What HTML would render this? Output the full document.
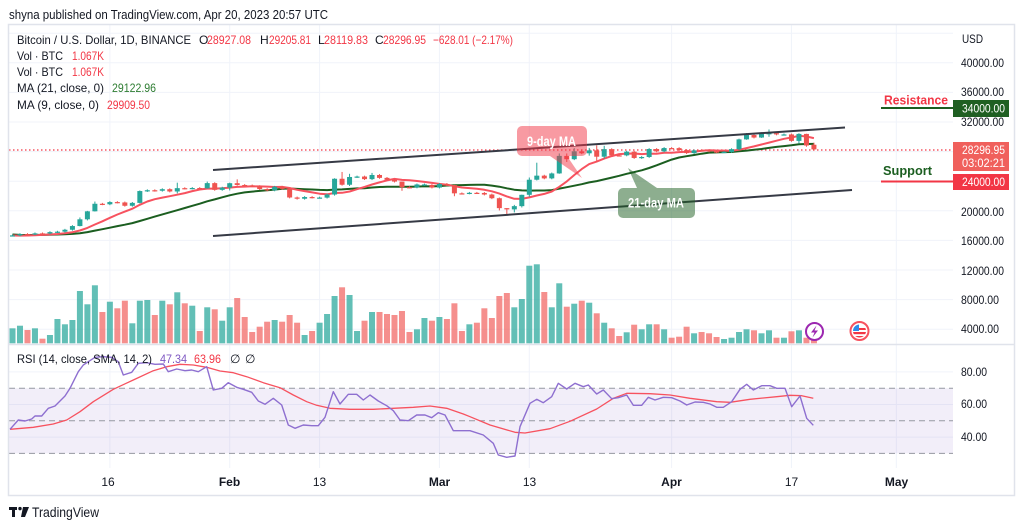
<!DOCTYPE html>
<html><head><meta charset="utf-8"><style>
html,body{margin:0;padding:0;background:#fff;}
svg{display:block;font-family:"Liberation Sans",sans-serif;}
</style></head><body>
<svg id="c" width="1024" height="529" viewBox="0 0 1024 529" xmlns="http://www.w3.org/2000/svg">
<rect x="0" y="0" width="1024" height="529" fill="#fff"/>
<g id="grid"></g>
<!-- RSI band -->
<rect x="9" y="388.2" width="944" height="65.2" fill="#7e57c2" fill-opacity="0.1"/>
<g stroke="#9598a1" stroke-width="1" stroke-dasharray="6,4">
<line x1="9" y1="388.2" x2="953" y2="388.2"/>
<line x1="9" y1="420.8" x2="953" y2="420.8"/>
<line x1="9" y1="453.4" x2="953" y2="453.4"/>
</g>
<g id="vol"></g>
<!-- current price dotted line -->
<line x1="9" y1="150" x2="953" y2="150" stroke="#f23645" stroke-width="1.2" stroke-dasharray="1.5,2.5"/>
<g id="ma"></g>
<g id="candles"></g>
<!-- channel lines -->
<line x1="213" y1="170" x2="845" y2="127.5" stroke="#363a45" stroke-width="2"/>
<line x1="213" y1="236" x2="852" y2="190" stroke="#363a45" stroke-width="2"/>
<!-- callouts -->
<g fill="#f23645" fill-opacity="0.5">
<rect x="517" y="126" width="70" height="30" rx="5"/>
<polygon points="550,156 567,156 582,178"/>
</g>
<text x="551.5" y="146" font-size="13.5" font-weight="bold" fill="#fff" text-anchor="middle" textLength="49" lengthAdjust="spacingAndGlyphs">9-day MA</text>
<g fill="#1b5e20" fill-opacity="0.5">
<rect x="618" y="188" width="77" height="30" rx="5"/>
<polygon points="637,188 657,188 628,168"/>
</g>
<text x="656" y="207.5" font-size="13.5" font-weight="bold" fill="#fff" text-anchor="middle" textLength="56" lengthAdjust="spacingAndGlyphs">21-day MA</text>
<!-- RSI lines -->
<g id="rsi"></g>
<!-- icons -->
<circle cx="814.5" cy="331.5" r="8.5" fill="#fff" stroke="#9c27b0" stroke-width="2"/>
<polygon points="816.5,325.5 811,332.5 814.5,332.5 812.5,337.5 818,330.5 814.5,330.5" fill="#9c27b0"/>
<circle cx="859.5" cy="331" r="9" fill="#fff" stroke="#f7525f" stroke-width="2"/>
<clipPath id="fc"><circle cx="859.5" cy="331" r="6.5"/></clipPath>
<g clip-path="url(#fc)">
<rect x="852" y="324" width="16" height="15" fill="#fff"/>
<rect x="852" y="332" width="16" height="2.2" fill="#f23645"/>
<rect x="852" y="336" width="16" height="3" fill="#f23645"/>
<rect x="859" y="328" width="9" height="2" fill="#f23645"/>
<rect x="852" y="324" width="7" height="7" fill="#2f8bea"/>
</g>
<!-- frame & separators -->
<rect x="8.5" y="24.5" width="1006" height="471" fill="none" stroke="#e0e3eb" stroke-width="1.5"/>
<line x1="9" y1="344.5" x2="1014" y2="344.5" stroke="#e0e3eb" stroke-width="1.5"/>
<!-- header -->
<text x="9" y="19" font-size="13" fill="#131722" textLength="319" lengthAdjust="spacingAndGlyphs">shyna published on TradingView.com, Apr 20, 2023 20:57 UTC</text>
<g font-size="12" fill="#131722">
<text x="17" y="44" textLength="174" lengthAdjust="spacingAndGlyphs">Bitcoin / U.S. Dollar, 1D, BINANCE</text>
<text x="199" y="44">O</text><text x="207" y="44" fill="#f23645" textLength="44" lengthAdjust="spacingAndGlyphs">28927.08</text>
<text x="260" y="44">H</text><text x="269" y="44" fill="#f23645" textLength="42" lengthAdjust="spacingAndGlyphs">29205.81</text>
<text x="318" y="44">L</text><text x="324" y="44" fill="#f23645" textLength="44" lengthAdjust="spacingAndGlyphs">28119.83</text>
<text x="375" y="44">C</text><text x="383" y="44" fill="#f23645" textLength="43" lengthAdjust="spacingAndGlyphs">28296.95</text>
<text x="433" y="44" fill="#f23645" textLength="80" lengthAdjust="spacingAndGlyphs">−628.01 (−2.17%)</text>
<text x="17" y="60" textLength="46" lengthAdjust="spacingAndGlyphs">Vol · BTC</text><text x="72" y="60" fill="#f23645" textLength="32" lengthAdjust="spacingAndGlyphs">1.067K</text>
<text x="17" y="76" textLength="46" lengthAdjust="spacingAndGlyphs">Vol · BTC</text><text x="72" y="76" fill="#f23645" textLength="32" lengthAdjust="spacingAndGlyphs">1.067K</text>
<text x="17" y="92" textLength="87" lengthAdjust="spacingAndGlyphs">MA (21, close, 0)</text><text x="112" y="92" fill="#2e7d32" textLength="44" lengthAdjust="spacingAndGlyphs">29122.96</text>
<text x="17" y="109" textLength="82" lengthAdjust="spacingAndGlyphs">MA (9, close, 0)</text><text x="107" y="109" fill="#f23645" textLength="43" lengthAdjust="spacingAndGlyphs">29909.50</text>
<text x="17" y="363" textLength="135" lengthAdjust="spacingAndGlyphs">RSI (14, close, SMA, 14, 2)</text>
<text x="160" y="363" fill="#7e57c2" textLength="27" lengthAdjust="spacingAndGlyphs">47.34</text>
<text x="194" y="363" fill="#f23645" textLength="27" lengthAdjust="spacingAndGlyphs">63.96</text>
<text x="230" y="363">∅</text><text x="245" y="363">∅</text>
</g>
<!-- price axis -->
<g font-size="12" fill="#131722">
<text x="962" y="43" textLength="21" lengthAdjust="spacingAndGlyphs">USD</text>
<text x="961" y="67" textLength="43" lengthAdjust="spacingAndGlyphs">40000.00</text>
<text x="961" y="96" textLength="43" lengthAdjust="spacingAndGlyphs">36000.00</text>
<text x="961" y="126" textLength="43" lengthAdjust="spacingAndGlyphs">32000.00</text>
<text x="961" y="216" textLength="43" lengthAdjust="spacingAndGlyphs">20000.00</text>
<text x="961" y="245" textLength="43" lengthAdjust="spacingAndGlyphs">16000.00</text>
<text x="961" y="275" textLength="43" lengthAdjust="spacingAndGlyphs">12000.00</text>
<text x="961" y="304" textLength="38" lengthAdjust="spacingAndGlyphs">8000.00</text>
<text x="961" y="333" textLength="38" lengthAdjust="spacingAndGlyphs">4000.00</text>
<text x="961" y="376" textLength="26" lengthAdjust="spacingAndGlyphs">80.00</text>
<text x="961" y="408" textLength="26" lengthAdjust="spacingAndGlyphs">60.00</text>
<text x="961" y="441" textLength="26" lengthAdjust="spacingAndGlyphs">40.00</text>
</g>
<!-- resistance / support -->
<line x1="881" y1="108" x2="953" y2="108" stroke="#1b5e20" stroke-width="2"/>
<text x="884" y="104.5" font-size="13" font-weight="bold" fill="#f23645" textLength="64" lengthAdjust="spacingAndGlyphs">Resistance</text>
<rect x="953" y="100" width="56" height="17" fill="#1f5f22"/>
<text x="962" y="112.5" font-size="12" fill="#fff" textLength="43" lengthAdjust="spacingAndGlyphs">34000.00</text>
<line x1="881" y1="181.5" x2="953" y2="181.5" stroke="#f23645" stroke-width="2"/>
<text x="883" y="175" font-size="13" font-weight="bold" fill="#1b5e20" textLength="49" lengthAdjust="spacingAndGlyphs">Support</text>
<rect x="953" y="142" width="56" height="29" fill="#f0605c"/>
<text x="962" y="154" font-size="12" fill="#fff" textLength="43" lengthAdjust="spacingAndGlyphs">28296.95</text>
<text x="962" y="167" font-size="12" fill="#fff" textLength="43" lengthAdjust="spacingAndGlyphs">03:02:21</text>
<rect x="953" y="174" width="56" height="16" fill="#f23645"/>
<text x="962" y="186" font-size="12" fill="#fff" textLength="43" lengthAdjust="spacingAndGlyphs">24000.00</text>
<!-- time axis -->
<g font-size="12" fill="#131722" text-anchor="middle">
<text x="108" y="486">16</text>
<text x="229.5" y="486" font-weight="bold">Feb</text>
<text x="319.5" y="486">13</text>
<text x="439.5" y="486" font-weight="bold">Mar</text>
<text x="529.5" y="486">13</text>
<text x="671.5" y="486" font-weight="bold">Apr</text>
<text x="791.5" y="486">17</text>
<text x="896.5" y="486" font-weight="bold">May</text>
</g>
<!-- footer -->
<g fill="#131722">
<rect x="9" y="507" width="8" height="3"/>
<rect x="12" y="507" width="3" height="10"/>
<circle cx="20" cy="508.6" r="1.7"/>
<polygon points="23,507 29,507 25,517 21,517"/>
</g>
<text x="32" y="517" font-size="14" fill="#131722" textLength="67" lengthAdjust="spacingAndGlyphs">TradingView</text>
</svg>
<script>
(function(){
var NS="http://www.w3.org/2000/svg";
function el(p,t,a){var e=document.createElementNS(NS,t);for(var k in a)e.setAttribute(k,a[k]);p.appendChild(e);return e;}
function X(k){return 12.5+k*7.49;}
function Y(p){return 122+(32000-p)*0.0074;}
function RY(r){return 404.5-(r-60)*1.63;}
var grid=document.getElementById('grid');
for(var p=44000;p>=4000;p-=4000){var y=Y(p);el(grid,'line',{x1:9,y1:y,x2:953,y2:y,stroke:'#f0f3fa','stroke-width':1});}
[80,60,40].forEach(function(r){var y=RY(r);el(grid,'line',{x1:9,y1:y,x2:953,y2:y,stroke:'#f0f3fa','stroke-width':1});});
[13,29,41,57,69,88,104,118].forEach(function(k){var x=X(k);el(grid,'line',{x1:x,y1:25,x2:x,y2:468,stroke:'#f0f3fa','stroke-width':1});});
var closes=[16670,16850,16830,16950,16940,17120,17180,17440,17940,18850,
19930,20950,20880,21180,21130,20680,21070,22670,22780,22710,
22920,22610,23060,23010,23080,23030,23740,22830,23130,23730,
23490,23430,23330,22940,22760,23250,22960,21800,21630,21860,
21790,21780,22200,24330,23520,24570,24630,24280,24840,24450,
24190,23950,23190,23160,23560,23490,23140,23630,23470,22360,
22350,22430,22410,22200,21700,20360,20190,20630,22160,24200,
24750,24380,25050,27420,26970,28040,27770,28170,27310,28330,
27490,27490,27990,27140,27270,28350,28030,28480,28470,28200,
27800,28170,28180,28030,27920,27950,28330,29650,30240,29900,
30400,30490,30320,30320,29450,30390,28820,28297];
var col="TTRTRTTTTTTTRTRRTTTRTRTRTRTRTTRRRRRTRRRTRTTTRTTRTRRRRRTTRTRRRTRRRRRTTTTRTTRTRTRTRRTRTTRTRRRTRRRTTTTRTTRTRTRR";
var vt=[328.3,325.7,330,328.3,338.7,335,319,324.3,320,291,
304.3,285.3,312,301.7,308.3,300.7,323.3,300.7,300,315,
300.7,304.3,292.3,303.3,305.7,331,307.3,309.3,320.7,307.3,
298,317,332,326.7,321.7,320,321.7,315,322.7,335,
331,322.7,314,296,287.3,295,331,320.7,312,312,
314,315,311,332,329.3,318,320.7,317,319,303.3,
331,324.3,322.7,308.3,318,296,293,307.3,299,265.7,
264.3,292,307.3,283.3,306.7,303.7,300.7,302.7,313.3,322.7,
328.3,336,332.3,324.7,329.3,324.3,324.3,329.3,337.7,336.7,
326.7,333.3,332,333.3,337,339,337.7,332,329.3,330.3,
333.3,330.3,337.7,337.7,331.3,330.3,337.7,340];
var ov={9:[19100,17900],10:[19990,18700],11:[21250,19900],17:[22750,21000],22:[23800,22350],26:[23950,23000],29:[23800,22750],30:[24250,23400],43:[24400,22050],44:[25250,23400],45:[25000,23350],48:[25120,24150],52:[23650,22700],59:[23500,21970],65:[21800,20050],66:[20300,19550],67:[20800,19780],68:[22180,20450],69:[24500,21900],70:[26500,24100],73:[27750,25000],74:[27750,26600],75:[28470,26850],77:[28500,27450],78:[28850,26600],79:[28780,27050],97:[29750,28200],98:[30500,29600],100:[30600,29850],101:[30990,30000],105:[30480,29100],106:[30410,28650],107:[29205.81,28119.83]};
var vol=document.getElementById('vol');
var cg=document.getElementById('candles');
for(var k=0;k<closes.length;k++){
  var t=col[k]==='T';
  var x=X(k);
  var top=vt[k]||335;
  el(vol,'rect',{x:x-3,y:top,width:6,height:343.3-top,fill:t?'#26a69a':'#ef5350','fill-opacity':t?0.72:0.65});
  var o=k===0?16680:closes[k-1]; if(k===107)o=28927.08;
  var c=closes[k];
  var hi=Math.max(o,c),lo=Math.min(o,c);
  var h=hi+120,l=lo-120;
  if(ov[k]){h=Math.max(ov[k][0],hi);l=Math.min(ov[k][1],lo);}
  var color=t?'#26a69a':'#ef5350';
  el(cg,'line',{x1:x,y1:Y(h),x2:x,y2:Y(l),stroke:color,'stroke-width':1});
  var yt=Y(hi),yb=Y(lo);if(yb-yt<1.2){yb=yt+1.2;}
  el(cg,'rect',{x:x-2.5,y:yt,width:5,height:yb-yt,fill:color});
}
var dec=[17780,17810,17360,16630,16780,16740,16440,16900,16820,16820,16780,16840,16830,16920,16710,16550,16630,16600,16540,16620,16680];
var all=dec.concat(closes);
var m9=[],m21=[];
for(var k=0;k<closes.length;k++){
  var i=k+21,s=0;for(var j=i-20;j<=i;j++)s+=all[j];
  var s9=0;for(var j=i-8;j<=i;j++)s9+=all[j];
  m21.push(X(k).toFixed(1)+','+Y(s/21).toFixed(1));
  m9.push(X(k).toFixed(1)+','+Y(s9/9).toFixed(1));
}
var ma=document.getElementById('ma');
el(ma,'polyline',{points:m21.join(' '),fill:'none',stroke:'#1b5e20','stroke-width':2,'stroke-linejoin':'round'});
el(ma,'polyline',{points:m9.join(' '),fill:'none',stroke:'#f7525f','stroke-width':2,'stroke-linejoin':'round'});
var p7=[30,268,55,240,75,243,95,237,105,228,125,228,145,205,165,198,195,168,210,145,235,95,250,75,265,65,285,52,310,50,335,52,355,65,370,105,395,97,415,70,440,68,465,73,490,72,505,95,530,87,555,92,575,90,595,95,620,80,640,150,665,145,685,128,710,142,730,148,755,157,775,183,795,193,820,175,845,195,865,255,885,265,910,255,935,257,955,257,975,232,1000,155,1020,192,1045,163,1070,163,1090,180,1110,165,1135,183,1160,197,1180,212,1200,240,1225,242,1250,225,1275,225,1295,233,1315,218,1335,225,1360,272,1385,272,1410,272];
var p8=[40,285,70,310,85,345,110,352,135,348,150,260,180,190,200,178,220,188,245,170,265,130,290,147,315,130,340,140,355,135,380,162,400,150,425,176,445,173,470,165,490,196,515,196,535,172,555,180,580,172,605,173,630,183,650,195,675,186,700,187,720,192,740,202,760,202,785,185,810,148,830,133,850,150,875,137,900,137,920,145,945,145,965,200,990,168,1010,235,1030,256];
var r7=[30,268,100,262,160,252,200,240,240,215,280,185,340,148,400,120,460,92,500,80,540,73,580,75,620,82,660,93,700,98,740,110,790,128,840,143,880,165,920,185,950,196,990,205,1050,208,1120,208,1180,205,1240,202,1290,198,1340,205,1390,222];
var r8=[0,230,60,255,135,277,165,279,240,266,300,244,380,207,430,175,470,160,540,161,600,165,660,175,740,185,780,187,840,178,920,170,960,166,995,167,1030,175];
function pts(a,ox){var r=[];for(var i=0;i<a.length;i+=2)r.push((ox+a[i]/3).toFixed(1)+','+(340+a[i+1]/3).toFixed(1));return r;}
var rg=document.getElementById('rsi');
el(rg,'polyline',{points:pts(r7,0).concat(pts(r8,470)).join(' '),fill:'none',stroke:'#f7525f','stroke-width':1.3,'stroke-linejoin':'round'});
el(rg,'polyline',{points:pts(p7,0).concat(pts(p8,470)).join(' '),fill:'none',stroke:'#8e6fd0','stroke-width':1.4,'stroke-linejoin':'round'});
})();
</script>
</body></html>
